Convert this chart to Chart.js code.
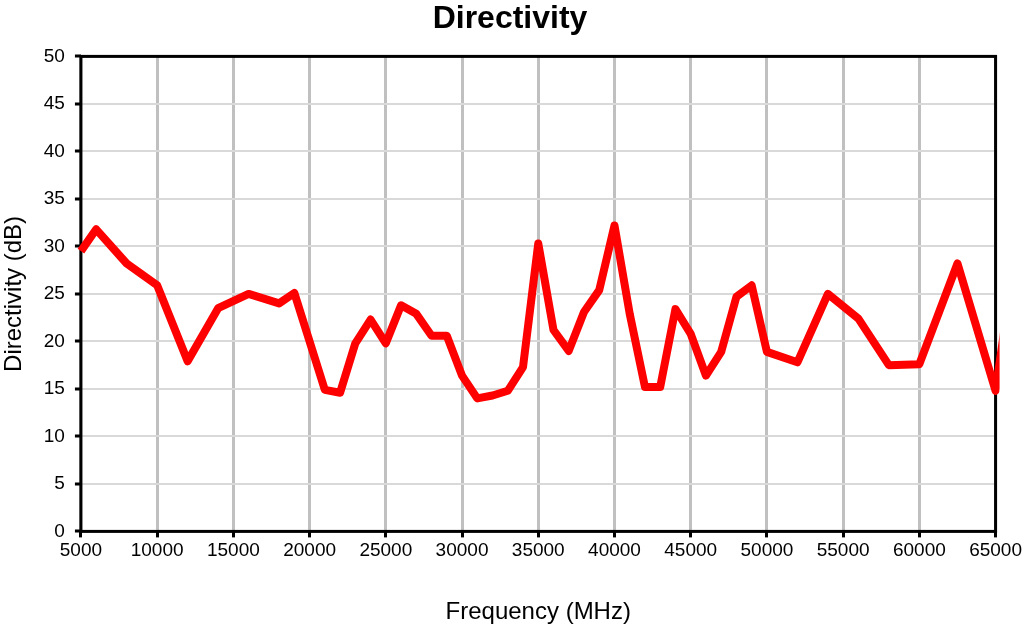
<!DOCTYPE html>
<html>
<head>
<meta charset="utf-8">
<script src="https://cdn.jsdelivr.net/npm/chart.js@4.4.1/dist/chart.umd.min.js"></script>
<style>
  html, body { margin: 0; padding: 0; background: #fff; }
  #wrap { width: 1024px; height: 629px; }
</style>
</head>
<body>
<div id="wrap"><canvas id="c" width="1024" height="629"></canvas></div>
<script>
const frequencies = [5000, 6000, 8000, 10000, 12000, 14000, 16000, 18000, 19000, 21000, 22000, 23000, 24000, 25000, 26000, 27000, 28000, 29000, 30000, 31000, 32000, 33000, 34000, 35000, 36000, 37000, 38000, 39000, 40000, 41000, 42000, 43000, 44000, 45000, 46000, 47000, 48000, 49000, 50000, 52000, 54000, 56000, 58000, 60000, 62500, 65000, 66000];
const directivity = [29.5, 31.8, 28.2, 25.9, 17.9, 23.5, 25.0, 24.0, 25.1, 14.9, 14.6, 19.8, 22.3, 19.8, 23.8, 22.9, 20.6, 20.6, 16.4, 14.0, 14.3, 14.8, 17.3, 30.3, 21.2, 19.0, 23.1, 25.4, 32.2, 22.9, 15.2, 15.2, 23.4, 20.8, 16.4, 18.9, 24.7, 25.9, 18.9, 17.8, 25.0, 22.4, 17.5, 17.6, 28.2, 14.8, 26.0];
const xTicks = [5000, 10000, 15000, 20000, 25000, 30000, 35000, 40000, 45000, 50000, 55000, 60000, 65000];
const yTicks = [0, 5, 10, 15, 20, 25, 30, 35, 40, 45, 50];
const xRange = [5000, 65000];
const yRange = [0, 50];

const FONT = "'Liberation Sans', Arial, sans-serif";

const boxPlugin = {
  id: 'box',
  beforeDatasetsDraw(chart) {
    const a = chart.chartArea, ctx = chart.ctx;
    ctx.save();
    ctx.strokeStyle = '#000';
    ctx.lineWidth = 3;
    ctx.strokeRect(a.left, a.top, a.right - a.left, a.bottom - a.top);
    ctx.restore();
  }
};

new Chart(document.getElementById('c'), {
  type: 'line',
  data: {
    datasets: [{
      data: frequencies.map((f, i) => ({ x: f, y: directivity[i] })),
      borderColor: '#ff0000',
      borderWidth: 8,
      pointRadius: 0,
      tension: 0,
      borderJoinStyle: 'round',
      fill: false
    }]
  },
  options: {
    responsive: false,
    animation: false,
    devicePixelRatio: 1,
    layout: { padding: { left: 0, right: 4, top: 0, bottom: 2 } },
    plugins: {
      legend: { display: false },
      tooltip: { enabled: false },
      title: {
        display: true,
        text: 'Directivity',
        color: '#000',
        font: { family: FONT, size: 32, weight: 'bold' },
        padding: { top: 0, bottom: 18 }
      }
    },
    scales: {
      x: {
        type: 'linear',
        bounds: 'data',
        afterDataLimits: (s) => { s.min = xRange[0]; s.max = xRange[1]; },
        afterBuildTicks: (s) => { s.min = xRange[0]; s.max = xRange[1]; s.ticks = xTicks.map(v => ({ value: v })); },
        ticks: {
          color: '#000',
          font: { family: FONT, size: 19 },
          maxRotation: 0,
          autoSkip: false,
          padding: 2,
          callback: (v) => String(v)
        },
        grid: { color: '#c0c0c0', lineWidth: 3, tickColor: '#000', tickLength: 6, tickWidth: 3 },
        border: { display: false },
        title: {
          display: true,
          text: 'Frequency (MHz)',
          color: '#000',
          font: { family: FONT, size: 24 },
          padding: { top: 34, bottom: 0 }
        }
      },
      y: {
        type: 'linear',
        min: yRange[0],
        max: yRange[1],
        afterBuildTicks: (s) => { s.ticks = yTicks.map(v => ({ value: v })); },
        ticks: {
          color: '#000',
          font: { family: FONT, size: 19 },
          padding: 10
        },
        grid: { color: '#d9d9d9', lineWidth: 2, tickColor: '#000', tickLength: 6, tickWidth: 3 },
        border: { display: false },
        title: {
          display: true,
          text: 'Directivity (dB)',
          color: '#000',
          font: { family: FONT, size: 24 },
          padding: { top: 0, bottom: 5 }
        }
      }
    }
  },
  plugins: [boxPlugin]
});
</script>
</body>
</html>
